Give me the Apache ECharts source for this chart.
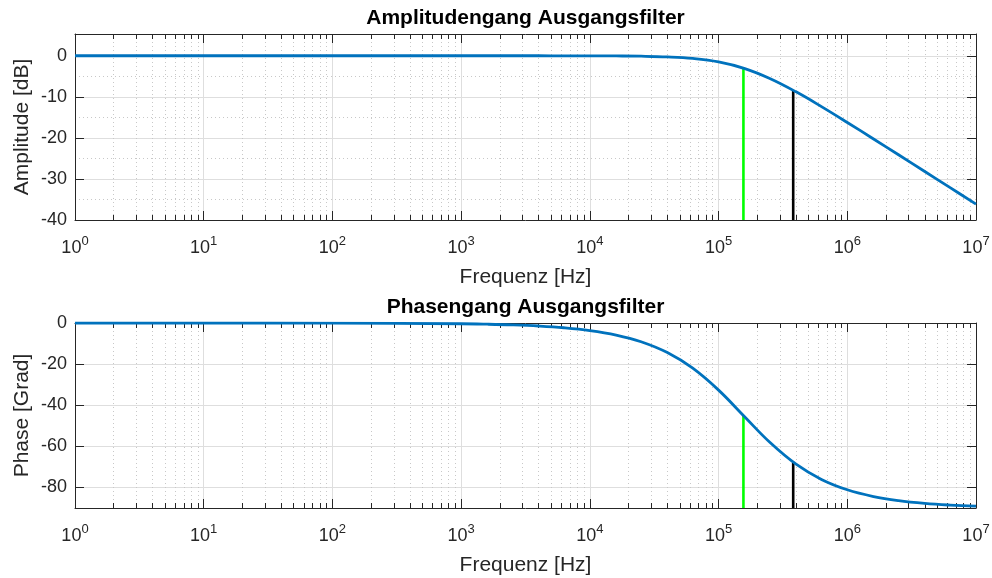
<!DOCTYPE html>
<html>
<head>
<meta charset="utf-8">
<title>Ausgangsfilter</title>
<script src="https://cdn.jsdelivr.net/npm/echarts@6/dist/echarts.min.js"></script>
<style>
  html, body { margin: 0; padding: 0; background: #ffffff; }
  #chart { width: 992px; height: 578px; }
</style>
</head>
<body>
<div id="chart"></div>
<script>
// Frequency response of the output filter (Bode plot)
const frequencies = [1, 10, 100, 1e3, 1.6e3, 2.5e3, 4e3, 6.3e3, 1e4, 1.6e4, 2.5e4, 4e4, 6.3e4,
  1e5, 1.6e5, 2.5e5, 4e5, 6.3e5, 1e6, 1.6e6, 2.5e6, 4e6, 6.3e6, 1e7];
const amplitudeDb = [0, 0, 0, 0, 0, 0, 0, -0.01, -0.02, -0.05, -0.11, -0.28, -0.66,
  -1.5, -3.12, -5.53, -8.79, -12.38, -16.24, -20.26, -24.11, -28.18, -32.13, -36.14];
const phaseDeg = [0, 0, -0.04, -0.37, -0.59, -0.92, -1.47, -2.31, -3.67, -5.86, -9.11, -14.38, -22.0,
  -32.66, -45.73, -58.04, -68.69, -76.09, -81.13, -84.43, -86.43, -87.77, -88.58, -89.11];

// Marker lines: cutoff frequency (-3 dB / -45°) and the second marked frequency
const markerFreqs = [1.56e5, 3.8e5];
const markerAmplitude = [-3.0, -8.4];
const markerPhase = [-45.0, -67.7];

// Tick labels
const decadeTicks = [1, 10, 100, 1e3, 1e4, 1e5, 1e6, 1e7];
const amplitudeTicks = [-40, -30, -20, -10, 0];
const amplitudeMinorGrid = [-35, -25, -15, -5];
const phaseTicks = [-80, -60, -40, -20, 0];

const amplitudeRange = [-40, 5.3];
const phaseRange = [-90, 0];

// ---- styling ----
const FONT = "'Liberation Sans', Arial, Helvetica, sans-serif";
const AXIS_COLOR = '#262626';
const GRID_COLOR = '#dedede';
const MINOR_GRID_COLOR = '#c8c8c8';
const CURVE_COLOR = '#0072bd';
const MARKER_COLORS = ['#00ff00', '#000000'];

const grids = [
  { left: 75, top: 34, width: 901, height: 186 },
  { left: 75, top: 323, width: 901, height: 185 }
];

const interiorDecades = decadeTicks.slice(1, -1);
const minorDecadeTicks = [];
decadeTicks.slice(0, -1).forEach(d => {
  [2, 3, 4, 5, 6, 7, 8, 9].forEach(m => minorDecadeTicks.push(d * m));
});

function decadeLabel(v) {
  const e = Math.round(Math.log10(v));
  return '{b|10}{s|' + e + '}';
}

function xAxesFor(gridIndex) {
  const base = {
    type: 'log', logBase: 10, gridIndex: gridIndex, min: 1, max: 1e7,
    minorTick: { show: false }, minorSplitLine: { show: false }
  };
  return [
    // bottom: labels, major ticks, major grid
    Object.assign({}, base, {
      position: 'bottom',
      name: 'Frequenz [Hz]', nameLocation: 'middle', nameGap: 47, nameMoveOverlap: false,
      nameTextStyle: { fontSize: 21, color: AXIS_COLOR, fontFamily: FONT },
      axisLine: { show: true, onZero: false, lineStyle: { color: AXIS_COLOR, width: 1 } },
      axisTick: { show: true, inside: true, length: 9, customValues: interiorDecades,
                  lineStyle: { color: AXIS_COLOR, width: 1 } },
      axisLabel: {
        customValues: decadeTicks, margin: 15, showMinLabel: true, showMaxLabel: true,
        formatter: decadeLabel, color: AXIS_COLOR, fontFamily: FONT,
        rich: {
          b: { fontSize: 18, lineHeight: 26, color: AXIS_COLOR, fontFamily: FONT },
          s: { fontSize: 13, verticalAlign: 'top', color: AXIS_COLOR, fontFamily: FONT }
        }
      },
      splitLine: { show: true, lineStyle: { color: GRID_COLOR, width: 1 } }
    }),
    // top: mirrored major ticks
    Object.assign({}, base, {
      position: 'top',
      axisLine: { show: true, onZero: false, lineStyle: { color: AXIS_COLOR, width: 1 } },
      axisTick: { show: true, inside: true, length: 9, customValues: interiorDecades,
                  lineStyle: { color: AXIS_COLOR, width: 1 } },
      axisLabel: { show: false },
      splitLine: { show: false }
    }),
    // bottom: minor ticks and dotted minor grid
    Object.assign({}, base, {
      position: 'bottom',
      axisLine: { show: false, onZero: false },
      axisTick: { show: true, inside: true, length: 5, customValues: minorDecadeTicks,
                  lineStyle: { color: AXIS_COLOR, width: 1 } },
      axisLabel: { show: false },
      splitLine: { show: true, lineStyle: { color: MINOR_GRID_COLOR, width: 1, type: [1, 3] } }
    }),
    // top: mirrored minor ticks
    Object.assign({}, base, {
      position: 'top',
      axisLine: { show: false, onZero: false },
      axisTick: { show: true, inside: true, length: 5, customValues: minorDecadeTicks,
                  lineStyle: { color: AXIS_COLOR, width: 1 } },
      axisLabel: { show: false },
      splitLine: { show: false }
    })
  ];
}

function yAxesFor(gridIndex, range, ticks, name, minorGrid) {
  const interior = ticks.filter(t => t > range[0] && t < range[1]);
  const base = { type: 'value', gridIndex: gridIndex, min: range[0], max: range[1] };
  const axes = [
    Object.assign({}, base, {
      position: 'left',
      name: name, nameLocation: 'middle', nameGap: 42, nameMoveOverlap: false,
      nameTextStyle: { fontSize: 21, color: AXIS_COLOR, fontFamily: FONT },
      axisLine: { show: true, onZero: false, lineStyle: { color: AXIS_COLOR, width: 1 } },
      axisTick: { show: true, inside: true, length: 9, customValues: interior,
                  lineStyle: { color: AXIS_COLOR, width: 1 } },
      axisLabel: { customValues: ticks, margin: 8, fontSize: 18, color: AXIS_COLOR, fontFamily: FONT,
                   showMinLabel: true, showMaxLabel: true },
      splitLine: { show: true, lineStyle: { color: GRID_COLOR, width: 1 } }
    }),
    Object.assign({}, base, {
      position: 'right',
      axisLine: { show: true, onZero: false, lineStyle: { color: AXIS_COLOR, width: 1 } },
      axisTick: { show: true, inside: true, length: 9, customValues: interior,
                  lineStyle: { color: AXIS_COLOR, width: 1 } },
      axisLabel: { show: false },
      splitLine: { show: false }
    })
  ];
  if (minorGrid) {
    axes.push(Object.assign({}, base, {
      position: 'left',
      axisLine: { show: false, onZero: false },
      axisTick: { show: false, customValues: minorGrid },
      axisLabel: { show: false },
      splitLine: { show: true, lineStyle: { color: MINOR_GRID_COLOR, width: 1, type: [1, 3] } }
    }));
  }
  return axes;
}

const xAxis = xAxesFor(0).concat(xAxesFor(1));           // grid0: 0..3, grid1: 4..7
const yAxis = yAxesFor(0, amplitudeRange, amplitudeTicks, 'Amplitude [dB]', amplitudeMinorGrid) // 0..2
  .concat(yAxesFor(1, phaseRange, phaseTicks, 'Phase [Grad]', null));                       // 3..4

function pairs(xs, ys) { return xs.map((x, i) => [x, ys[i]]); }

const series = [];
// marker lines: from the axis floor up to the curve
markerFreqs.forEach((f, i) => {
  series.push({
    type: 'line', xAxisIndex: 0, yAxisIndex: 0, z: 3, symbol: 'none', silent: true,
    data: [[f, amplitudeRange[0]], [f, markerAmplitude[i]]],
    lineStyle: { color: MARKER_COLORS[i], width: 2.6 }
  });
  series.push({
    type: 'line', xAxisIndex: 4, yAxisIndex: 3, z: 3, symbol: 'none', silent: true,
    data: [[f, phaseRange[0]], [f, markerPhase[i]]],
    lineStyle: { color: MARKER_COLORS[i], width: 2.6 }
  });
});
series.push({
  type: 'line', xAxisIndex: 0, yAxisIndex: 0, z: 4, symbol: 'none', smooth: 0.4,
  data: pairs(frequencies, amplitudeDb),
  lineStyle: { color: CURVE_COLOR, width: 2.8 }
});
series.push({
  type: 'line', xAxisIndex: 4, yAxisIndex: 3, z: 4, symbol: 'none', smooth: 0.4,
  data: pairs(frequencies, phaseDeg),
  lineStyle: { color: CURVE_COLOR, width: 2.8 }
});

const chart = echarts.init(document.getElementById('chart'), null, { renderer: 'canvas' });
chart.setOption({
  backgroundColor: '#ffffff',
  animation: false,
  grid: grids.map(g => Object.assign({ containLabel: false, outerBoundsMode: 'none' }, g)),
  xAxis: xAxis,
  yAxis: yAxis,
  graphic: [
    { type: 'text', x: 525.5, y: 18, silent: true,
      style: { text: 'Amplitudengang Ausgangsfilter', fill: '#000000', align: 'center', verticalAlign: 'middle',
               font: "bold 21px " + FONT } },
    { type: 'text', x: 525.5, y: 307, silent: true,
      style: { text: 'Phasengang Ausgangsfilter', fill: '#000000', align: 'center', verticalAlign: 'middle',
               font: "bold 21px " + FONT } }
  ],
  series: series
});
</script>
</body>
</html>
